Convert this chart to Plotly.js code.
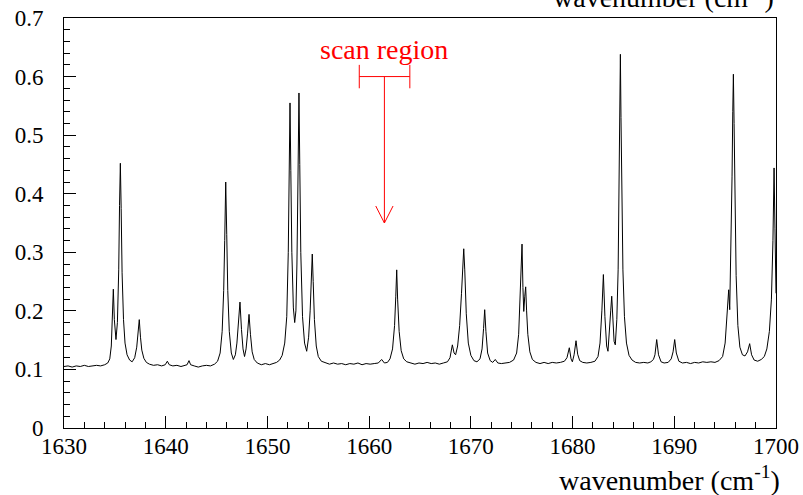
<!DOCTYPE html>
<html>
<head>
<meta charset="utf-8">
<script src="https://cdn.plot.ly/plotly-3.0.1.min.js"></script>
<style>
  html, body { margin: 0; padding: 0; background: #fff; }
  #chart { width: 803px; height: 495px; }
</style>
</head>
<body>
<div id="chart"></div>
<script>
// Spectrum
const wavenumber = [
  1630.0, 1630.4, 1630.8, 1631.2, 1631.6, 1632.0, 1632.4, 1632.8, 1633.2, 1633.6,
  1634.0, 1634.3, 1634.5, 1634.65, 1634.75, 1634.85, 1634.95, 1635.05, 1635.11, 1635.25,
  1635.38, 1635.46, 1635.54, 1635.62, 1635.71, 1635.85, 1636.0, 1636.2, 1636.45, 1636.7,
  1636.95, 1637.15, 1637.28, 1637.40, 1637.52, 1637.65, 1637.85, 1638.1, 1638.4, 1638.8,
  1639.2, 1639.6, 1639.95, 1640.16, 1640.35, 1640.7, 1641.1, 1641.5, 1641.9, 1642.1,
  1642.29, 1642.45, 1642.8, 1643.2, 1643.6, 1644.0, 1644.4, 1644.8, 1645.1, 1645.35,
  1645.55, 1645.7, 1645.8, 1645.9, 1646.0, 1646.1, 1646.25, 1646.45, 1646.65, 1646.85,
  1647.0, 1647.15, 1647.3, 1647.45, 1647.6, 1647.75, 1647.9, 1648.05, 1648.19, 1648.33,
  1648.5, 1648.7, 1649.0, 1649.4, 1649.8, 1650.2, 1650.6, 1650.9, 1651.2, 1651.45,
  1651.7, 1651.9, 1652.05, 1652.15, 1652.22, 1652.3, 1652.4, 1652.55, 1652.68, 1652.8,
  1652.9, 1653.0, 1653.1, 1653.18, 1653.28, 1653.45, 1653.65, 1653.86, 1654.05, 1654.2,
  1654.32, 1654.41, 1654.5, 1654.62, 1654.8, 1655.0, 1655.3, 1655.7, 1656.1, 1656.5,
  1656.9, 1657.3, 1657.7, 1658.1, 1658.5, 1658.9, 1659.3, 1659.7, 1660.1, 1660.5,
  1660.9, 1661.23, 1661.5, 1661.8, 1662.05, 1662.3, 1662.5, 1662.62, 1662.71, 1662.8,
  1662.95, 1663.15, 1663.4, 1663.7, 1664.1, 1664.5, 1664.9, 1665.3, 1665.7, 1666.1,
  1666.5, 1666.9, 1667.3, 1667.7, 1667.95, 1668.18, 1668.35, 1668.5, 1668.7, 1668.9,
  1669.08, 1669.2, 1669.3, 1669.4, 1669.55, 1669.75, 1670.0, 1670.3, 1670.6, 1670.9,
  1671.1, 1671.25, 1671.36, 1671.48, 1671.65, 1671.9, 1672.15, 1672.4, 1672.65, 1673.0,
  1673.4, 1673.8, 1674.2, 1674.5, 1674.7, 1674.85, 1674.95, 1675.03, 1675.12, 1675.2,
  1675.3, 1675.39, 1675.48, 1675.6, 1675.8, 1676.05, 1676.4, 1676.8, 1677.2, 1677.6,
  1678.0, 1678.4, 1678.8, 1679.2, 1679.45, 1679.68, 1679.85, 1679.98, 1680.15, 1680.34,
  1680.5, 1680.7, 1681.0, 1681.4, 1681.8, 1682.2, 1682.5, 1682.7, 1682.88, 1683.03,
  1683.18, 1683.35, 1683.48, 1683.62, 1683.75, 1683.85, 1683.95, 1684.08, 1684.2, 1684.35,
  1684.48, 1684.58, 1684.65, 1684.7, 1684.76, 1684.83, 1684.95, 1685.1, 1685.3, 1685.55,
  1685.85, 1686.2, 1686.6, 1687.0, 1687.4, 1687.7, 1687.95, 1688.1, 1688.27, 1688.45,
  1688.7, 1689.0, 1689.4, 1689.7, 1689.88, 1690.04, 1690.2, 1690.45, 1690.8, 1691.2,
  1691.6, 1692.0, 1692.4, 1692.8, 1693.2, 1693.6, 1694.0, 1694.4, 1694.75, 1695.0,
  1695.2, 1695.35, 1695.45, 1695.58, 1695.68, 1695.75, 1695.81, 1695.88, 1695.96, 1696.08,
  1696.25, 1696.45, 1696.7, 1696.95, 1697.2, 1697.41, 1697.6, 1697.85, 1698.2, 1698.55,
  1698.85, 1699.1, 1699.35, 1699.55, 1699.7, 1699.81, 1699.9, 1700.0
];
const absorbance = [
  0.105, 0.106, 0.104, 0.106, 0.105, 0.107, 0.105, 0.106, 0.107, 0.106,
  0.108, 0.111, 0.118, 0.140, 0.180, 0.237, 0.185, 0.155, 0.151, 0.180,
  0.270, 0.380, 0.452, 0.375, 0.265, 0.185, 0.145, 0.125, 0.116, 0.113,
  0.120, 0.138, 0.158, 0.185, 0.155, 0.133, 0.119, 0.112, 0.109, 0.107,
  0.108, 0.106, 0.108, 0.114, 0.108, 0.106, 0.107, 0.105, 0.107, 0.108,
  0.115, 0.108, 0.106, 0.104, 0.106, 0.107, 0.106, 0.109, 0.114, 0.128,
  0.165, 0.235, 0.320, 0.420, 0.330, 0.235, 0.165, 0.128, 0.117, 0.125,
  0.145, 0.180, 0.215, 0.168, 0.135, 0.122, 0.135, 0.162, 0.194, 0.160,
  0.130, 0.117, 0.111, 0.108, 0.110, 0.108, 0.110, 0.112, 0.116, 0.124,
  0.145, 0.190, 0.300, 0.430, 0.555, 0.440, 0.300, 0.205, 0.180, 0.200,
  0.280, 0.420, 0.572, 0.450, 0.300, 0.190, 0.145, 0.131, 0.155, 0.200,
  0.260, 0.297, 0.250, 0.185, 0.140, 0.122, 0.114, 0.111, 0.109, 0.111,
  0.109, 0.110, 0.108, 0.110, 0.109, 0.111, 0.108, 0.110, 0.109, 0.110,
  0.111, 0.117, 0.111, 0.112, 0.118, 0.135, 0.175, 0.225, 0.270, 0.220,
  0.165, 0.132, 0.118, 0.113, 0.111, 0.109, 0.111, 0.110, 0.112, 0.110,
  0.111, 0.109, 0.111, 0.113, 0.120, 0.142, 0.128, 0.125, 0.140, 0.175,
  0.230, 0.280, 0.306, 0.270, 0.195, 0.145, 0.124, 0.115, 0.113, 0.118,
  0.135, 0.170, 0.202, 0.165, 0.128, 0.115, 0.112, 0.117, 0.111, 0.110,
  0.111, 0.112, 0.116, 0.128, 0.160, 0.220, 0.280, 0.314, 0.240, 0.199,
  0.225, 0.241, 0.200, 0.160, 0.130, 0.117, 0.112, 0.110, 0.112, 0.110,
  0.112, 0.111, 0.112, 0.114, 0.120, 0.137, 0.118, 0.113, 0.125, 0.149,
  0.126, 0.115, 0.112, 0.111, 0.112, 0.114, 0.122, 0.145, 0.200, 0.262,
  0.190, 0.140, 0.131, 0.160, 0.200, 0.225, 0.190, 0.148, 0.142, 0.185,
  0.270, 0.400, 0.530, 0.638, 0.530, 0.400, 0.270, 0.190, 0.145, 0.124,
  0.116, 0.112, 0.111, 0.112, 0.111, 0.113, 0.117, 0.125, 0.151, 0.125,
  0.113, 0.111, 0.112, 0.118, 0.130, 0.151, 0.128, 0.114, 0.111, 0.112,
  0.110, 0.112, 0.111, 0.113, 0.112, 0.113, 0.112, 0.115, 0.122, 0.145,
  0.195, 0.236, 0.202, 0.300, 0.430, 0.540, 0.604, 0.520, 0.390, 0.260,
  0.175, 0.138, 0.125, 0.123, 0.130, 0.144, 0.125, 0.116, 0.114, 0.117,
  0.122, 0.135, 0.165, 0.220, 0.320, 0.444, 0.340, 0.230
];

// Axis ticks
const xTicks = [1630, 1640, 1650, 1660, 1670, 1680, 1690, 1700];
const yTicks = [0, 0.1, 0.2, 0.3, 0.4, 0.5, 0.6, 0.7];

// "scan region" marker (data units)
const scanRange = [1659.03, 1664.0];
const scanLevel = 0.6;
const arrowX = 1661.5;
const arrowTipY = 0.35;

const FONT = 'Liberation Serif';
const RED = '#ff0000';

const trace = {
  x: wavenumber, y: absorbance, type: 'scatter', mode: 'lines',
  line: { color: '#000', width: 1 }, hoverinfo: 'skip'
};

const redLine = { type: 'line', xref: 'x', yref: 'y', line: { color: RED, width: 1 } };
const capHalf = 0.02;
const headDx = 0.85, headDy = 0.029;
const shapes = [
  Object.assign({}, redLine, { x0: scanRange[0], x1: scanRange[1], y0: scanLevel, y1: scanLevel }),
  Object.assign({}, redLine, { x0: scanRange[0], x1: scanRange[0], y0: scanLevel - capHalf, y1: scanLevel + capHalf }),
  Object.assign({}, redLine, { x0: scanRange[1], x1: scanRange[1], y0: scanLevel - capHalf, y1: scanLevel + capHalf }),
  Object.assign({}, redLine, { x0: arrowX, x1: arrowX, y0: scanLevel, y1: arrowTipY }),
  Object.assign({}, redLine, { x0: arrowX - headDx, x1: arrowX, y0: arrowTipY + headDy, y1: arrowTipY }),
  Object.assign({}, redLine, { x0: arrowX + headDx, x1: arrowX, y0: arrowTipY + headDy, y1: arrowTipY })
];

const titleText = 'wavenumber (cm<sup>-1</sup>)';

const layout = {
  width: 803, height: 495,
  margin: { l: 64, r: 27, t: 18, b: 67, pad: 0 },
  paper_bgcolor: '#fff', plot_bgcolor: '#fff',
  showlegend: false,
  font: { family: FONT, color: '#000', size: 23 },
  xaxis: {
    range: [1630, 1700], tickvals: xTicks, ticktext: xTicks.map(String),
    ticks: 'inside', ticklen: 12, tickwidth: 1, tickcolor: '#000',
    minor: { dtick: 2, tick0: 1630, ticks: 'inside', ticklen: 6, tickwidth: 1, tickcolor: '#000', showgrid: false },
    showline: true, linecolor: '#000', linewidth: 1, mirror: true,
    showgrid: false, zeroline: false,
    tickfont: { family: FONT, size: 23, color: '#000' },
    ticklabelstandoff: -3
  },
  yaxis: {
    range: [0, 0.7], tickvals: yTicks, ticktext: yTicks.map(v => v === 0 ? '0' : v.toFixed(1)),
    ticks: 'inside', ticklen: 12, tickwidth: 1, tickcolor: '#000',
    minor: { dtick: 0.02, tick0: 0, ticks: 'inside', ticklen: 6, tickwidth: 1, tickcolor: '#000', showgrid: false },
    showline: true, linecolor: '#000', linewidth: 1, mirror: true,
    showgrid: false, zeroline: false,
    tickfont: { family: FONT, size: 23, color: '#000' },
    ticklabelstandoff: 15
  },
  shapes: shapes,
  annotations: [
    { text: 'scan region', xref: 'x', yref: 'y', x: arrowX, y: 0.647,
      xanchor: 'center', yanchor: 'middle', showarrow: false,
      font: { family: FONT, size: 28, color: RED } },
    { text: titleText, xref: 'paper', yref: 'paper', x: 1.0084, y: -0.124,
      xanchor: 'right', yanchor: 'middle', showarrow: false,
      font: { family: FONT, size: 28, color: '#000' } },
    { text: titleText, xref: 'paper', yref: 'paper', x: 1.0, y: 1.056,
      xanchor: 'right', yanchor: 'middle', showarrow: false,
      font: { family: FONT, size: 28, color: '#000' } }
  ]
};

Plotly.newPlot('chart', [trace], layout, { staticPlot: true, displayModeBar: false });
</script>
</body>
</html>
